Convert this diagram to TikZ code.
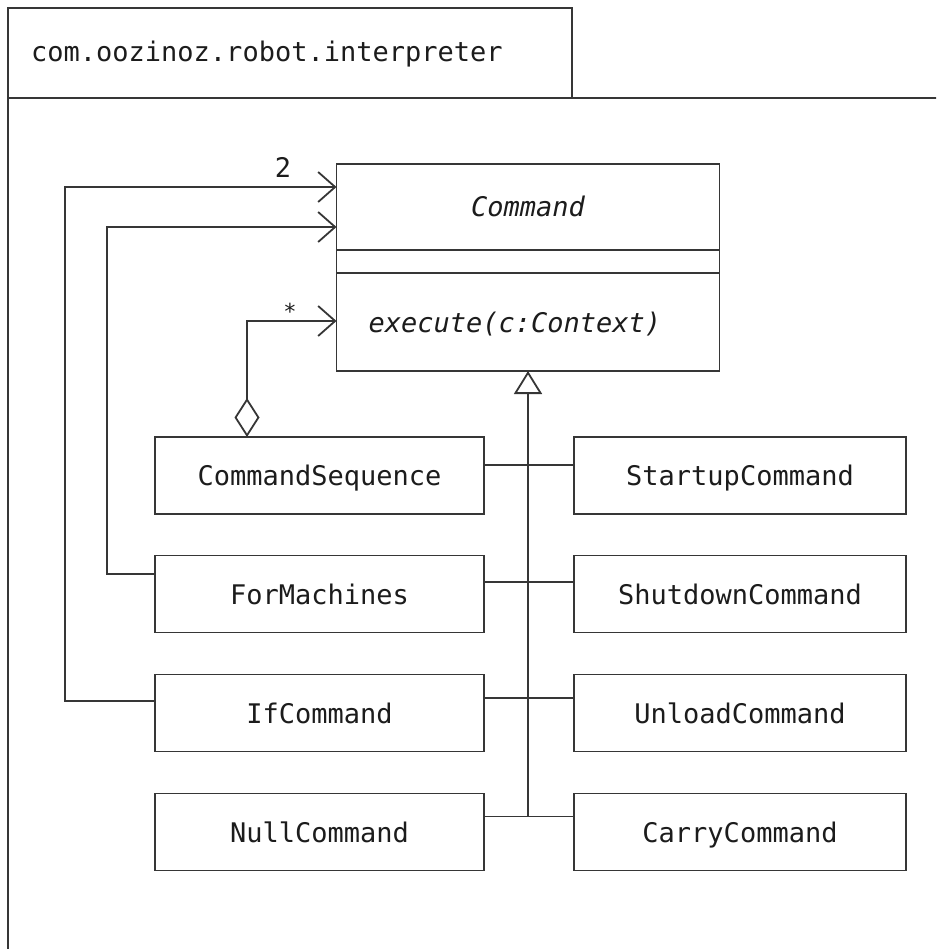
\documentclass[tikz,border=0pt]{standalone}
\usepackage{fontspec}
\setmonofont{DejaVu Sans Mono}[ItalicFont={DejaVu Sans Mono Oblique}]
\usetikzlibrary{arrows.meta}
\definecolor{lc}{HTML}{363636}
\definecolor{tc}{HTML}{1C1C1C}
\newcommand\umllbl{\ttfamily\fontsize{27}{32}\selectfont}
\begin{document}
\begin{tikzpicture}[x=1pt,y=-1pt,
  ln/.style={draw=lc, line width=1.8pt},
  cls/.style={ln, rectangle, fill=white, minimum height=77pt, inner sep=0pt, outer sep=0pt, font=\umllbl, text=tc, text height=20pt, text depth=0pt},
  lcls/.style={cls, minimum width=329pt},
  rcls/.style={cls, minimum width=332pt},
  comp/.style={ln, rectangle, fill=white, minimum width=383pt, inner sep=0pt, outer sep=0pt, font=\umllbl, text=tc},
  barb/.style={-{Straight Barb[length=17pt,width=30pt,line width=1.8pt]}},
  gen/.style={-{Triangle[open,length=23pt,width=28pt,line width=1.8pt,fill=white]}},
  agg/.style={{Diamond[open,length=39pt,width=25pt,line width=1.8pt,fill=white]}-{Straight Barb[length=17pt,width=30pt,line width=1.8pt]}},
  lab/.style={font=\umllbl, text=tc, inner sep=0pt}]
\useasboundingbox (0,0) rectangle (936,949);
\clip (0,0) rectangle (936,949);
% package frame
\draw[ln] (8,960) -- (8,98) -- (950,98);
\draw[ln] (8,98) -- (8,8) -- (572,8) -- (572,98);
\node[lab, anchor=west] (pkg) at (31,54) {com.oozinoz.robot.interpreter};
% Command class
\node[comp, minimum height=86pt, text height=20pt, text depth=0pt] (cmdname) at (528,207) {\itshape Command};
\node[comp, minimum height=23pt] (cmdattr) at (528,261.5) {};
\node[comp, minimum height=98pt, text width=319pt, align=left, text height=20pt, text depth=0pt] (cmdops) at (528,322) {\itshape execute(c:Context)};
% subclasses
\node[lcls] (cs) at (319.5,475.5) {CommandSequence};
\node[lcls] (fm) at (319.5,594) {ForMachines};
\node[lcls] (ifc) at (319.5,713) {IfCommand};
\node[lcls] (nc) at (319.5,832) {NullCommand};
\node[rcls] (su) at (740,475.5) {StartupCommand};
\node[rcls] (sd) at (740,594) {ShutdownCommand};
\node[rcls] (ul) at (740,713) {UnloadCommand};
\node[rcls] (cc) at (740,832) {CarryCommand};
% generalization tree
\coordinate (tb) at ([yshift=15.5pt]nc.east -| cmdops.south);
\draw[ln] ([yshift=10.5pt]cs.east) -- ([yshift=10.5pt]su.west);
\draw[ln] ([yshift=12pt]fm.east) -- ([yshift=12pt]sd.west);
\draw[ln] ([yshift=15pt]ifc.east) -- ([yshift=15pt]ul.west);
\draw[ln] ([yshift=15.5pt]nc.east) -- ([yshift=15.5pt]cc.west);
\draw[ln, gen] (tb) -- (cmdops.south);
% associations
\coordinate (k1) at (65,187);
\coordinate (k2) at (107,227);
\coordinate (k3) at (247,321);
\draw[ln, barb] ([yshift=12pt]ifc.west) -| (k1) -- (k1 -| cmdname.west);
\draw[ln, barb] ([yshift=20pt]fm.west) -| (k2) -- (k2 -| cmdname.west);
\draw[ln, agg] (cs.north -| k3) -- (k3) -- (k3 -| cmdops.west);
\node[lab] (two) at (283,167) {2};
\node[lab, font=\ttfamily\fontsize{22}{26}\selectfont] (star) at (290,311) {*};
\end{tikzpicture}
\end{document}
